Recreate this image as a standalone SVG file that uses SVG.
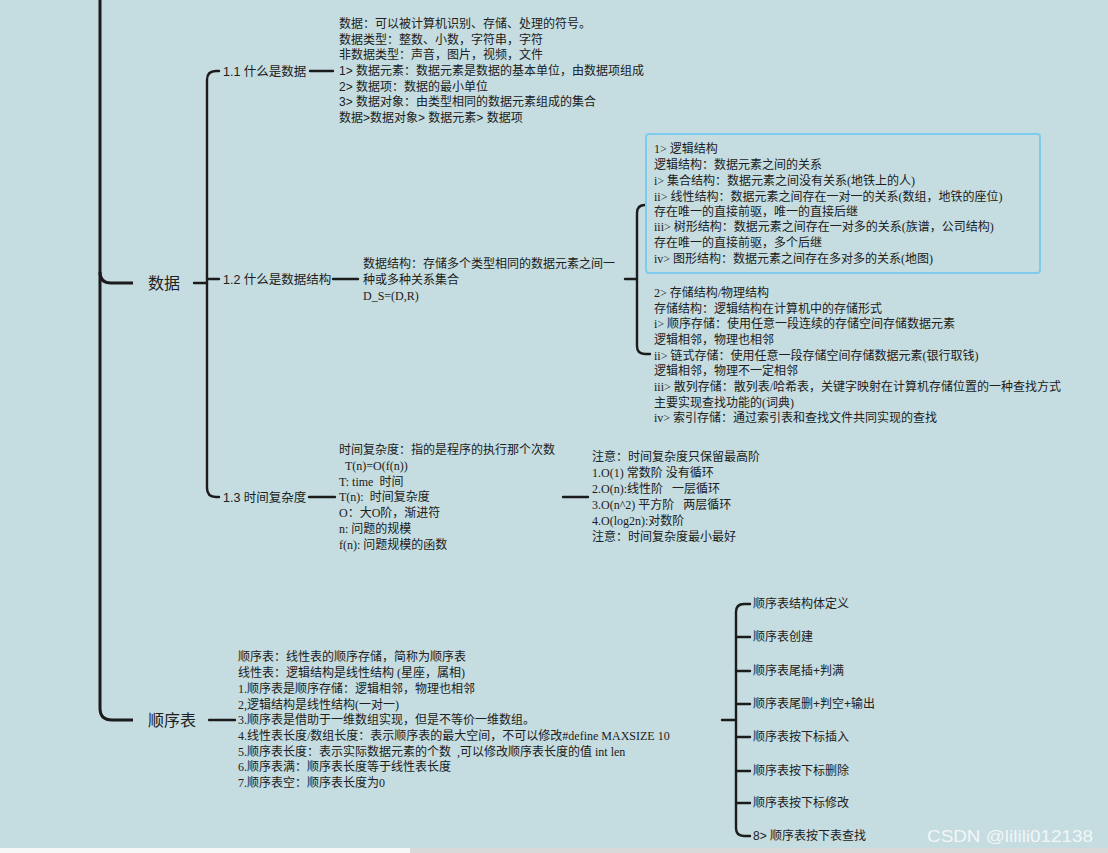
<svg xmlns="http://www.w3.org/2000/svg" width="1108" height="853" viewBox="0 0 1108 853">
<style>
text{white-space:pre}
.ln{fill:none;stroke:#1b1b1b;stroke-width:2.4;stroke-linecap:round}
.tr{fill:none;stroke:#1b1b1b;stroke-width:3}
.t{font-family:"Liberation Serif","Noto Sans CJK SC",serif;font-size:12px;fill:#202020}
.s{font-family:"Liberation Sans","Noto Sans CJK SC",sans-serif;font-size:12px;fill:#202020}
.lb{font-family:"Liberation Sans","Noto Sans CJK SC",sans-serif;font-size:12.5px;fill:#202020}
.top{font-family:"Liberation Sans","Noto Sans CJK SC",sans-serif;font-size:16px;fill:#202020}
.wm{font-family:"Liberation Sans","DejaVu Sans",sans-serif;font-size:16px;fill:#f2f6f7}
</style>
<rect x="0" y="0" width="1108" height="853" fill="#c5dde1"/>
<rect x="0" y="848" width="410" height="5" fill="#f7f7f7"/>
<rect x="410" y="848" width="698" height="5" fill="#d9d9d9"/>
<g id="connectors">
<path class="tr" d="M100,-2 V708 Q100,720 112,720 H133"/>
<path class="tr" d="M100,272 Q100,283 111,283 H133"/>
<path class="ln" d="M194,283 H207"/>
<path class="ln" d="M219,71 H216 Q207,71 207,80 V488 Q207,497 216,497 H219"/>
<path class="ln" d="M207,279 H219"/>
<path class="ln" d="M310,71 H333"/>
<path class="ln" d="M333,279 H358"/>
<path class="ln" d="M625,279 H637"/>
<path class="ln" d="M646,205 H645 Q637,205 637,213 V346 Q637,354 645,354 H650"/>
<path class="ln" d="M309,497 H335"/>
<path class="ln" d="M563,497 H588"/>
<path class="ln" d="M209,720 H235"/>
<path class="ln" d="M722,720 H736"/>
<path class="ln" d="M750,604 H744 Q736,604 736,612 V828 Q736,836 744,836 H750"/>
<path class="ln" d="M736,637 H750 M736,671 H750 M736,704 H750 M736,737 H750 M736,771 H750 M736,803 H750"/>
</g>
<g id="node-data"><text class="top" x="148" y="289">数据</text></g>
<g id="node-seqlist"><text class="top" x="148" y="726">顺序表</text></g>
<g id="node-1-1"><text class="lb" x="223" y="75.5">1.1 什么是数据</text></g>
<g id="node-1-1-text">
<text class="s" x="339" y="28">数据：可以被计算机识别、存储、处理的符号。</text>
<text class="s" x="339" y="43.5">数据类型：整数、小数，字符串，字符</text>
<text class="s" x="339" y="59">非数据类型：声音，图片，视频，文件</text>
<text class="s" x="339" y="75">1&gt; 数据元素：数据元素是数据的基本单位，由数据项组成</text>
<text class="s" x="339" y="90.5">2&gt; 数据项：数据的最小单位</text>
<text class="s" x="339" y="106">3&gt; 数据对象：由类型相同的数据元素组成的集合</text>
<text class="s" x="339" y="121.5">数据&gt;数据对象&gt; 数据元素&gt; 数据项</text>
</g>
<g id="node-1-2"><text class="lb" x="223" y="283.5">1.2 什么是数据结构</text></g>
<g id="node-1-2-text">
<text class="t" x="363" y="268">数据结构：存储多个类型相同的数据元素之间一</text>
<text class="t" x="363" y="284">种或多种关系集合</text>
<text class="t" x="363" y="300">D_S=(D,R)</text>
</g>
<g id="node-logic">
<rect x="646" y="134" width="394" height="139" rx="3" fill="#c5dde1" stroke="#7fcbee" stroke-width="2"/>
<text class="t" x="654" y="153">1&gt; 逻辑结构</text>
<text class="t" x="654" y="168.5">逻辑结构：数据元素之间的关系</text>
<text class="t" x="654" y="184.5">i&gt; 集合结构：数据元素之间没有关系(地铁上的人)</text>
<text class="t" x="654" y="200.5">ii&gt; 线性结构：数据元素之间存在一对一的关系(数组，地铁的座位)</text>
<text class="t" x="654" y="215.5">存在唯一的直接前驱，唯一的直接后继</text>
<text class="t" x="654" y="231">iii&gt; 树形结构：数据元素之间存在一对多的关系(族谱，公司结构)</text>
<text class="t" x="654" y="247">存在唯一的直接前驱，多个后继</text>
<text class="t" x="654" y="263">iv&gt; 图形结构：数据元素之间存在多对多的关系(地图)</text>
</g>
<g id="node-storage">
<text class="t" x="654" y="297">2&gt; 存储结构/物理结构</text>
<text class="t" x="654" y="312.5">存储结构：逻辑结构在计算机中的存储形式</text>
<text class="t" x="654" y="328">i&gt; 顺序存储：使用任意一段连续的存储空间存储数据元素</text>
<text class="t" x="654" y="344">逻辑相邻，物理也相邻</text>
<text class="t" x="654" y="359.5">ii&gt; 链式存储：使用任意一段存储空间存储数据元素(银行取钱)</text>
<text class="t" x="654" y="375">逻辑相邻，物理不一定相邻</text>
<text class="t" x="654" y="391">iii&gt; 散列存储：散列表/哈希表，关键字映射在计算机存储位置的一种查找方式</text>
<text class="t" x="654" y="406.5">主要实现查找功能的(词典)</text>
<text class="t" x="654" y="422">iv&gt; 索引存储：通过索引表和查找文件共同实现的查找</text>
</g>
<g id="node-1-3"><text class="lb" x="223" y="501.5">1.3 时间复杂度</text></g>
<g id="node-1-3-text">
<text class="t" x="339" y="454">时间复杂度：指的是程序的执行那个次数</text>
<text class="t" x="345" y="470">T(n)=O(f(n))</text>
<text class="t" x="339" y="486">T: time  时间</text>
<text class="t" x="339" y="501">T(n):  时间复杂度</text>
<text class="t" x="339" y="517">O：大O阶，渐进符</text>
<text class="t" x="339" y="533">n: 问题的规模</text>
<text class="t" x="339" y="549">f(n): 问题规模的函数</text>
</g>
<g id="node-complexity">
<text class="t" x="592" y="461">注意：时间复杂度只保留最高阶</text>
<text class="t" x="592" y="477">1.O(1) 常数阶 没有循环</text>
<text class="t" x="592" y="493">2.O(n):线性阶   一层循环</text>
<text class="t" x="592" y="509">3.O(n^2) 平方阶   两层循环</text>
<text class="t" x="592" y="525">4.O(log2n):对数阶</text>
<text class="t" x="592" y="540.5">注意：时间复杂度最小最好</text>
</g>
<g id="node-seqlist-text">
<text class="t" x="238" y="661">顺序表：线性表的顺序存储，简称为顺序表</text>
<text class="t" x="238" y="677">线性表：逻辑结构是线性结构 (星座，属相)</text>
<text class="t" x="238" y="693">1.顺序表是顺序存储：逻辑相邻，物理也相邻</text>
<text class="t" x="238" y="709">2,逻辑结构是线性结构(一对一)</text>
<text class="t" x="238" y="724">3.顺序表是借助于一维数组实现，但是不等价一维数组。</text>
<text class="t" x="238" y="740">4.线性表长度/数组长度：表示顺序表的最大空间，不可以修改#define MAXSIZE 10</text>
<text class="t" x="238" y="755.5">5.顺序表长度：表示实际数据元素的个数  ,可以修改顺序表长度的值 int len</text>
<text class="t" x="238" y="771">6.顺序表满：顺序表长度等于线性表长度</text>
<text class="t" x="238" y="787">7.顺序表空：顺序表长度为0</text>
</g>
<g id="node-items">
<text class="s" x="753" y="608">顺序表结构体定义</text>
<text class="s" x="753" y="641">顺序表创建</text>
<text class="s" x="753" y="675">顺序表尾插+判满</text>
<text class="s" x="753" y="708">顺序表尾删+判空+输出</text>
<text class="s" x="753" y="741">顺序表按下标插入</text>
<text class="s" x="753" y="775">顺序表按下标删除</text>
<text class="s" x="753" y="807">顺序表按下标修改</text>
<text class="s" x="753" y="840">8&gt; 顺序表按下表查找</text>
</g>
<text class="wm" x="927" y="842" textLength="166" lengthAdjust="spacingAndGlyphs">CSDN @lilili012138</text>
</svg>
